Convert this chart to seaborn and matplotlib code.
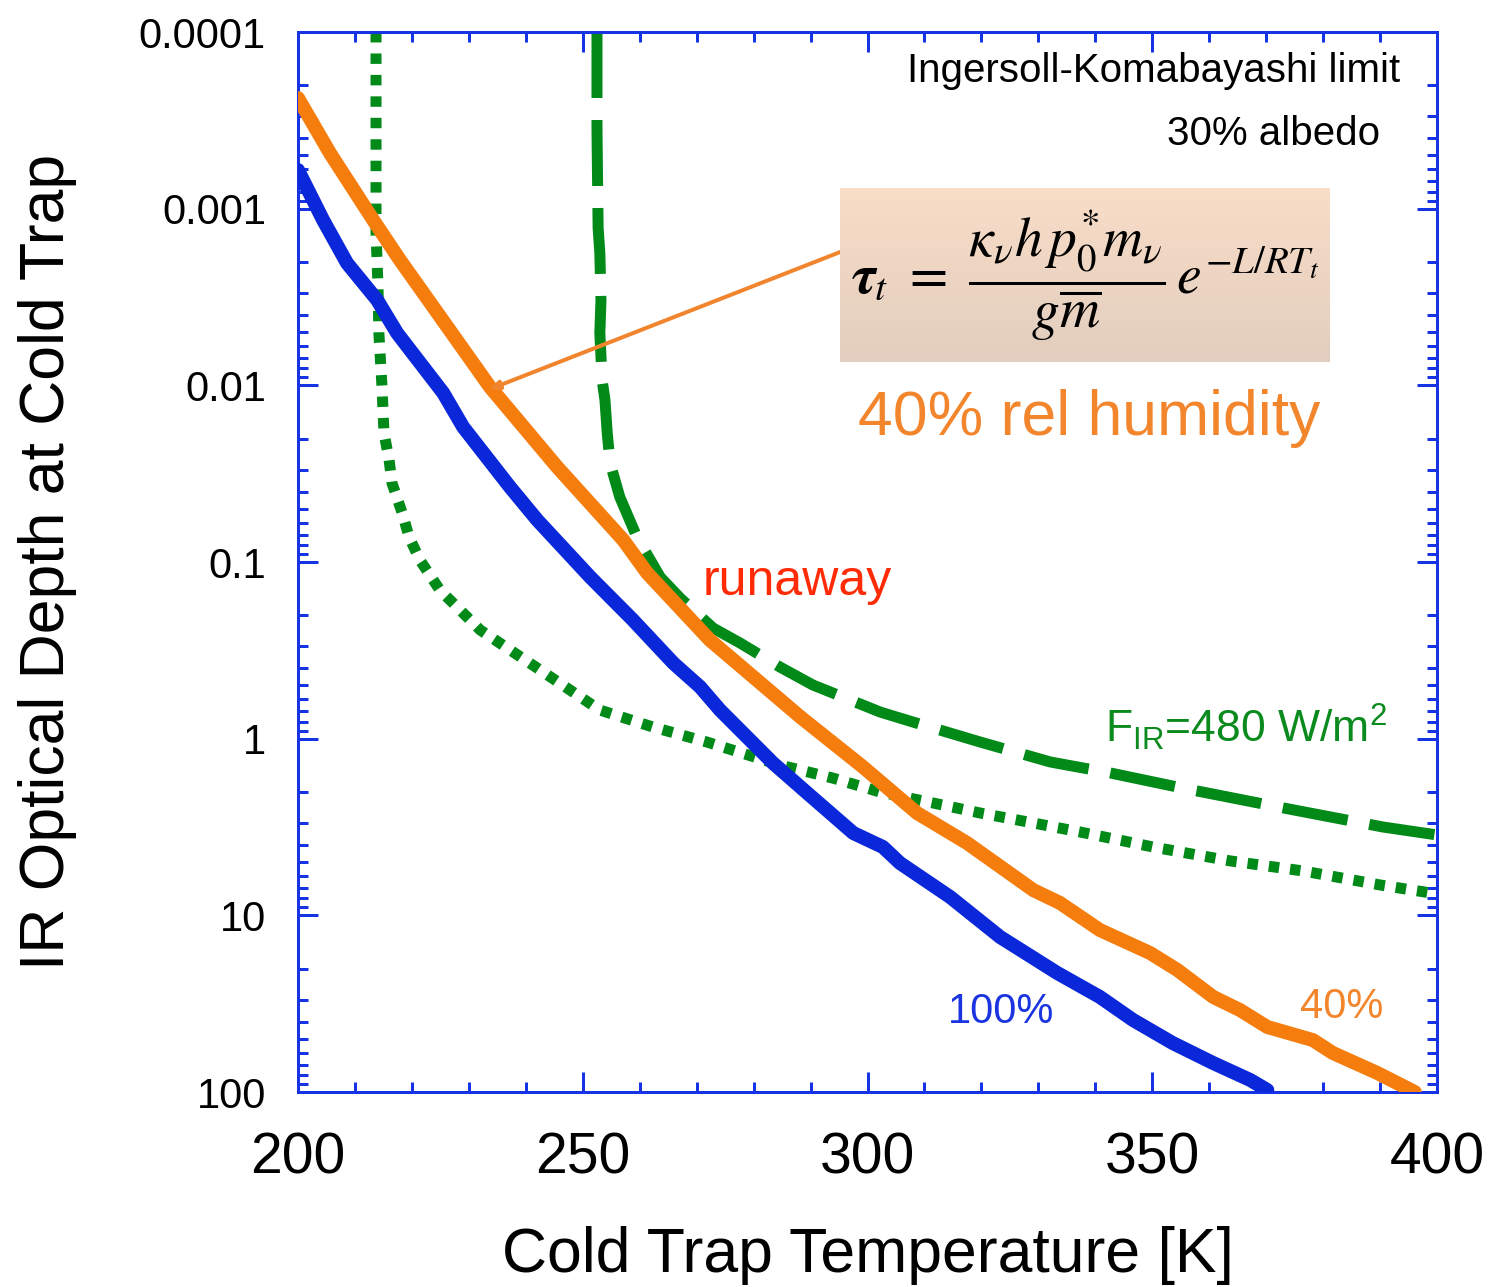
import numpy as np
import pandas as pd
import matplotlib
matplotlib.use("Agg")
import matplotlib.pyplot as plt
import matplotlib.ticker as mticker
import seaborn as sns

# ---------------- data ----------------
T_rh40 = [200.0, 205.6, 213.2, 217.9, 222.0, 233.7, 245.5, 257.1, 261.3, 272.3,
          288.2, 299.2, 308.7, 317.5, 329.1, 333.8, 340.8, 349.6, 354.4, 360.7,
          365.4, 370.2, 378.2, 381.7, 389.5, 396.1]
tau_rh40 = [2.366e-4, 4.84e-4, 1.159e-3, 1.954e-3, 3.00e-3, 0.01021, 0.02897, 0.0750,
            0.1153, 0.2761, 0.7534, 1.445, 2.636, 3.899, 7.194, 8.511, 12.11, 16.33,
            20.37, 28.97, 34.36, 42.85, 50.82, 60.12, 77.98, 100.0]

T_rh100 = [200.0, 204.4, 208.6, 213.9, 217.4, 225.5, 229.0, 237.2, 242.0, 251.3,
           258.8, 265.9, 270.6, 274.1, 283.4, 289.4, 297.5, 302.7, 305.7, 314.5,
           323.3, 333.3, 340.8, 346.6, 353.6, 360.7, 367.2, 370.2]
tau_rh100 = [6.04e-4, 1.159e-3, 2.032e-3, 3.289e-3, 5.058e-3, 0.01104, 0.01722, 0.03758,
             0.05781, 0.1216, 0.2128, 0.3733, 0.5093, 0.6887, 1.374, 2.028, 3.420, 4.102,
             5.058, 7.870, 13.27, 21.18, 28.97, 39.08, 52.84, 68.55, 85.51, 97.5]

T_ik = [213.7, 213.7, 214.05, 214.2, 214.75, 215.1, 216.0, 216.5, 218.3, 219.5,
        221.4, 224.9, 232.0, 242.5, 253.0, 262.3, 271.8, 284.6, 293.9, 302.2,
        311.5, 319.8, 329.1, 337.3, 350.1, 363.7, 376.5, 390.0, 400.0]
tau_ik = [1.0e-4, 1.374e-3, 2.773e-3, 5.058e-3, 0.01021, 0.01862, 0.02649, 0.03573,
          0.05284, 0.07211, 0.09750, 0.1439, 0.2427, 0.4083, 0.6887, 0.8590, 1.045,
          1.409, 1.671, 2.004, 2.312, 2.636, 3.000, 3.373, 4.102, 4.920, 5.610, 6.730, 7.568]

T_f480 = [252.5, 252.5, 252.7, 253.0, 253.2, 253.0, 253.4, 253.9, 254.3, 254.8,
          256.5, 259.5, 263.6, 267.1, 272.9, 277.6, 284.6, 290.4, 302.2, 308.0,
          319.8, 332.1, 342.6, 355.2, 373.0, 390.5, 400.0]
tau_f480 = [1.0e-4, 3.589e-4, 1.285e-3, 1.782e-3, 3.289e-3, 5.058e-3, 9.333e-3, 0.01211,
            0.01862, 0.02754, 0.04285, 0.07211, 0.1216, 0.1600, 0.2366, 0.2871, 0.3926,
            0.4966, 0.7063, 0.8054, 1.045, 1.355, 1.563, 1.901, 2.466, 3.162, 3.508]

x_ticks = [200, 250, 300, 350, 400]
y_ticks = [1e-4, 1e-3, 1e-2, 1e-1, 1, 10, 100]
y_tick_labels = ["0.0001", "0.001", "0.01", "0.1", "1", "10", "100"]

# ---------------- styling ----------------
sns.set_theme(style="white")
plt.rcParams["font.family"] = ["Liberation Sans", "DejaVu Sans"]
plt.rcParams["text.color"] = "black"
plt.rcParams["axes.labelcolor"] = "black"
plt.rcParams["xtick.color"] = "black"
plt.rcParams["ytick.color"] = "black"

W, H = 1492, 1287
fig = plt.figure(figsize=(W / 100, H / 100), dpi=100)
ax = fig.add_axes([298 / W, 1 - 1092 / H, (1437 - 298) / W, (1092 - 32) / H])

BLUE = "#0A27DA"
ORANGE = "#F47D0E"
GREEN = "#018A18"
AXBLUE = "#1434E6"

def px(lw_px):
    return lw_px * 72 / 100

df40 = pd.DataFrame({"T": T_rh40, "tau": tau_rh40})
df100 = pd.DataFrame({"T": T_rh100, "tau": tau_rh100})
dfik = pd.DataFrame({"T": T_ik, "tau": tau_ik})
dff = pd.DataFrame({"T": T_f480, "tau": tau_f480})

sns.lineplot(data=dfik, x="T", y="tau", ax=ax, sort=False, estimator=None,
             color=GREEN, linewidth=px(11), linestyle=(0, (0.95, 1.0)),
             dash_capstyle="butt", zorder=2)
sns.lineplot(data=dff, x="T", y="tau", ax=ax, sort=False, estimator=None,
             color=GREEN, linewidth=px(11), linestyle=(0, (6.0, 2.0)),
             dash_capstyle="butt", zorder=2)
sns.lineplot(data=df100, x="T", y="tau", ax=ax, sort=False, estimator=None,
             color=BLUE, linewidth=px(14), zorder=3)
sns.lineplot(data=df40, x="T", y="tau", ax=ax, sort=False, estimator=None,
             color=ORANGE, linewidth=px(14), zorder=4)

ax.set_yscale("log")
ax.set_xlim(200, 400)
ax.set_ylim(100, 1e-4)

ax.set_xticks(x_ticks)
ax.set_xticklabels([str(v) for v in x_ticks])
ax.xaxis.set_minor_locator(mticker.MultipleLocator(10))
ax.set_yticks(y_ticks)
ax.set_yticklabels(y_tick_labels)
ax.yaxis.set_minor_locator(mticker.LogLocator(base=10, subs=np.arange(2, 10), numticks=20))
ax.yaxis.set_minor_formatter(mticker.NullFormatter())

ax.tick_params(axis="both", which="both", direction="in", top=True, right=True,
               bottom=True, left=True, color=AXBLUE, width=px(3), labelcolor="black")
ax.tick_params(axis="both", which="major", length=px(20))
ax.tick_params(axis="both", which="minor", length=px(10))
ax.tick_params(axis="x", which="major", labelsize=41, pad=px(40))
ax.tick_params(axis="y", which="major", labelsize=30, pad=px(32))
for s in ax.spines.values():
    s.set_color(AXBLUE)
    s.set_linewidth(px(3))
ax.grid(False)

ax.set_xlabel("Cold Trap Temperature [K]", fontsize=45, labelpad=px(40), color="black")
ax.set_ylabel("IR Optical Depth at Cold Trap", fontsize=45, labelpad=px(62), color="black")

# annotation line from formula box to orange curve
ax.annotate("", xy=(233.4, 0.0106), xytext=(295.2, 1.76e-3),
            arrowprops=dict(arrowstyle="-|>,head_length=0.5,head_width=0.2",
                            color="#F0852E", lw=px(4), shrinkA=0, shrinkB=0),
            zorder=5)

# formula box with gradient
bx = fig.add_axes([840 / W, 1 - 362 / H, 490 / W, 174 / H])
grad = np.linspace(0, 1, 256).reshape(-1, 1)
top_c = np.array([249, 221, 199]) / 255
bot_c = np.array([226, 206, 191]) / 255
img = top_c[None, None, :] * (1 - grad[:, :, None]) + bot_c[None, None, :] * grad[:, :, None]
bx.imshow(img, aspect="auto", extent=[0, 1, 0, 1])
bx.set_axis_off()
bx.text(0.5, 0.5,
        r"$\boldsymbol{\tau}_t\ =\ \dfrac{\kappa_\nu h\, p_0^{*}m_\nu}{g\overline{m}}\,e^{-L/RT_t}$",
        transform=bx.transAxes, ha="center", va="center", fontsize=40,
        math_fontfamily="stix", color="black")

def ftext(x, y, s, **kw):
    fig.text(x / W, 1 - y / H, s, **kw)

ftext(1400, 82, "Ingersoll-Komabayashi limit", ha="right", va="baseline", fontsize=29, color="black")
ftext(1380, 145, "30% albedo", ha="right", va="baseline", fontsize=29, color="black")
ftext(858, 435, "40% rel humidity", ha="left", va="baseline", fontsize=45, color="#F3852C")
ftext(703, 595, "runaway", ha="left", va="baseline", fontsize=36, color="#FF2B06")
ftext(1105, 742, r"F$_\mathregular{IR}$=480 W/m$^\mathregular{2}$", ha="left", va="baseline",
      fontsize=32, color="#0B8A1E")
ftext(948, 1023, "100%", ha="left", va="baseline", fontsize=30, color="#1A35E0")
ftext(1300, 1018, "40%", ha="left", va="baseline", fontsize=30, color="#F3852C")

fig.savefig("out.png", dpi=100)
